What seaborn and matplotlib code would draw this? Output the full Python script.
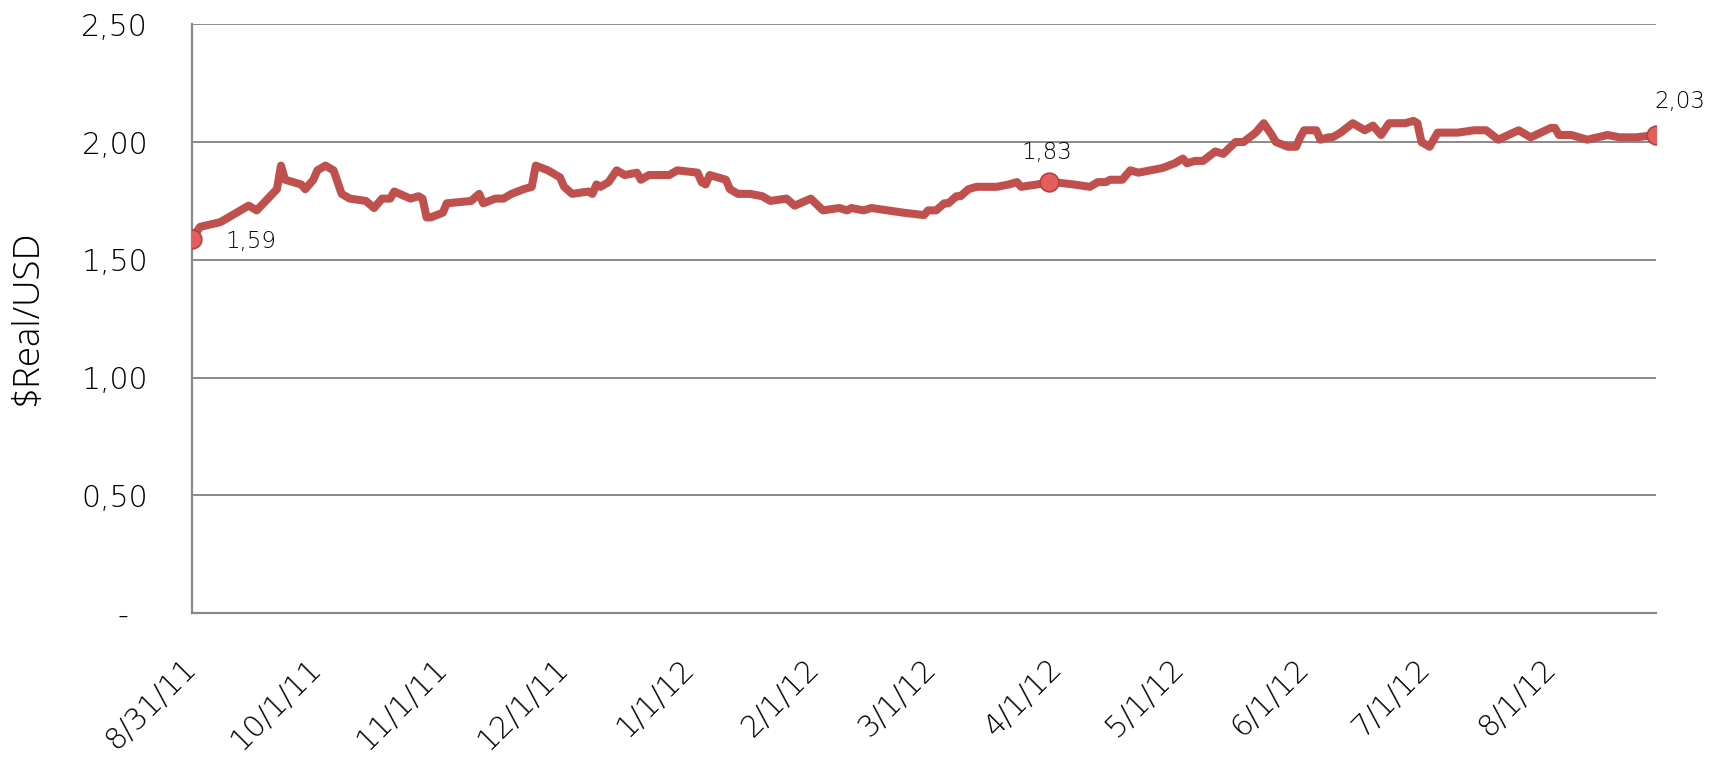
import matplotlib
matplotlib.use("Agg")
import matplotlib.pyplot as plt
import matplotlib.ticker as mticker
import numpy as np
import pandas as pd
import seaborn as sns

# BRL per USD (days counted from the first date)
start_date = "2011-08-31"
day_offsets = [
    0, 2, 7, 12, 14, 16, 21, 22, 23, 27, 28, 30, 31, 33, 35, 37, 39, 43, 45, 47,
    49, 50, 54, 56, 57, 58, 59, 62, 63, 69, 71, 72, 75, 77, 79, 82, 84, 85, 88, 91,
    92, 94, 98, 99, 100, 101, 103, 105, 107, 110, 111, 113, 118, 120, 125, 126, 127, 128, 132, 133,
    135, 138, 141, 143, 147, 149, 153, 156, 160, 162, 163, 166, 168, 172, 176, 181, 182, 184, 186, 187,
    189, 190, 192, 194, 198, 199, 202, 204, 205, 209, 212, 213, 218, 222, 224, 226, 227, 230, 232, 234,
    237, 240, 243, 245, 246, 248, 250, 253, 255, 258, 260, 263, 265, 267, 268, 271, 273, 274, 275, 278,
    279, 281, 282, 284, 287, 290, 292, 294, 296, 300, 302, 303, 304, 306, 308, 313, 317, 320, 323, 328,
    331, 336, 337, 338, 341, 345, 350, 353, 357, 362,
]
rate = [
    1.59, 1.64, 1.66, 1.71, 1.73, 1.71, 1.80, 1.90, 1.84, 1.82, 1.80, 1.84, 1.88, 1.90, 1.88, 1.78, 1.76, 1.75, 1.72, 1.76,
    1.76, 1.79, 1.76, 1.77, 1.76, 1.68, 1.68, 1.70, 1.74, 1.75, 1.78, 1.74, 1.76, 1.76, 1.78, 1.80, 1.81, 1.90, 1.88, 1.85,
    1.81, 1.78, 1.79, 1.78, 1.82, 1.81, 1.83, 1.88, 1.86, 1.87, 1.84, 1.86, 1.86, 1.88, 1.87, 1.83, 1.82, 1.86, 1.84, 1.80,
    1.78, 1.78, 1.77, 1.75, 1.76, 1.73, 1.76, 1.71, 1.72, 1.71, 1.72, 1.71, 1.72, 1.71, 1.70, 1.69, 1.71, 1.71, 1.74, 1.74,
    1.77, 1.77, 1.80, 1.81, 1.81, 1.81, 1.82, 1.83, 1.81, 1.82, 1.83, 1.83, 1.82, 1.81, 1.83, 1.83, 1.84, 1.84, 1.88, 1.87,
    1.88, 1.89, 1.91, 1.93, 1.91, 1.92, 1.92, 1.96, 1.95, 2.00, 2.00, 2.04, 2.08, 2.03, 2.00, 1.98, 1.98, 2.02, 2.05, 2.05,
    2.01, 2.02, 2.02, 2.04, 2.08, 2.05, 2.07, 2.03, 2.08, 2.08, 2.09, 2.08, 2.00, 1.98, 2.04, 2.04, 2.05, 2.05, 2.01, 2.05,
    2.02, 2.06, 2.06, 2.03, 2.03, 2.01, 2.03, 2.02, 2.02, 2.03,
]

# labelled points: (day offset, label)
label_days = [0, 212, 362]
label_texts = ["1,59", "1,83", "2,03"]

tick_labels = ["8/31/11", "10/1/11", "11/1/11", "12/1/11", "1/1/12", "2/1/12",
               "3/1/12", "4/1/12", "5/1/12", "6/1/12", "7/1/12", "8/1/12"]
y_ticks = [0, 0.5, 1.0, 1.5, 2.0, 2.5]

df = pd.DataFrame({
    "date": pd.to_datetime(start_date) + pd.to_timedelta(day_offsets, unit="D"),
    "rate": rate,
})
labels = df.iloc[[day_offsets.index(d) for d in label_days]].copy()
labels["text"] = label_texts

sns.set_style("white")
plt.rcParams["font.family"] = ["DejaVu Sans"]

fig, ax = plt.subplots(figsize=(17.22, 7.58), dpi=100)
fig.subplots_adjust(left=0.1115, right=0.9617, top=0.968, bottom=0.191)

line_red = "#C0504D"
grid_grey = "#8a8a8a"
text_col = "#000000"

sns.lineplot(data=df, x="date", y="rate", ax=ax, color=line_red, lw=5.8,
             solid_joinstyle="round", solid_capstyle="round", zorder=3)
ax.scatter(labels["date"], labels["rate"], s=180, c="#E35E5C",
           edgecolors="#B8403E", linewidths=1.2, zorder=5)

# (dx, dy) in points, alignment
offsets = [(24, -6.5, "left"), (-2, 16.5, "center"), (-1, 19.5, "left")]
for (_, row), (dx, dy, ha) in zip(labels.iterrows(), offsets):
    ax.annotate(row["text"], (row["date"], row["rate"]), xytext=(dx, dy),
                textcoords="offset points", ha=ha, va="baseline",
                fontsize=16.5, color=text_col, fontweight="light")

ax.set_ylim(0, 2.5)
ax.set_yticks(y_ticks)
ax.yaxis.set_major_formatter(mticker.FuncFormatter(
    lambda v, _: "-  " if v == 0 else f"{v:.2f}".replace(".", ",")))

tick_dates = pd.to_datetime(tick_labels, format="%m/%d/%y")
ax.set_xticks(tick_dates)
ax.set_xticklabels(tick_labels, rotation=45, ha="right", va="center",
                   rotation_mode="anchor")
ax.set_xlim(df["date"].iloc[0], df["date"].iloc[-1])

ax.grid(axis="y", color=grid_grey, lw=1.4)
ax.grid(axis="x", visible=False)
ax.set_axisbelow(True)
for side in ["top", "right"]:
    ax.spines[side].set_visible(False)
for side in ["left", "bottom"]:
    ax.spines[side].set_color(grid_grey)
    ax.spines[side].set_linewidth(1.6)

ax.tick_params(axis="both", which="major", direction="out", width=1.4,
               color=grid_grey, labelsize=21.5, labelcolor=text_col)
ax.tick_params(axis="x", length=7.2, pad=29)
ax.tick_params(axis="y", length=8.6, pad=23)
for lab in ax.get_xticklabels() + ax.get_yticklabels():
    lab.set_fontweight("light")

ax.set_xlabel("")
ax.set_ylabel("$Real/USD", fontsize=26.5, color=text_col, family="Open Sans",
              fontweight="light")
ax.yaxis.set_label_coords(-0.1, 0.5)

plt.savefig("out.png", dpi=100)
